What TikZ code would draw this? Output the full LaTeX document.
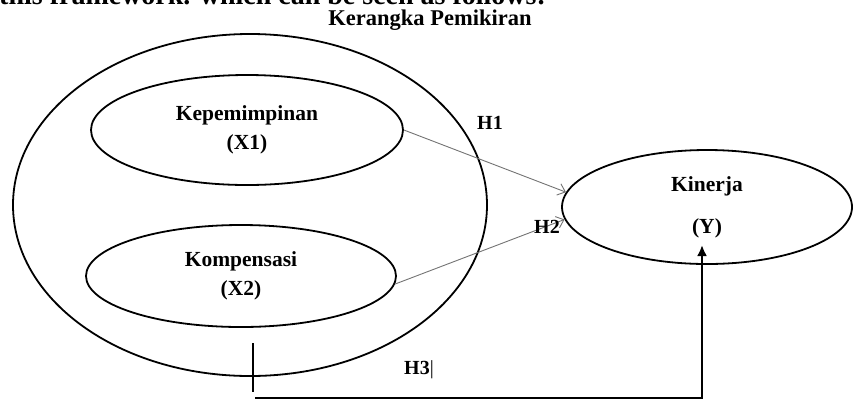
\documentclass[tikz,border=0pt]{standalone}
\usepackage{fontspec}
\setmainfont{Liberation Serif}
\usetikzlibrary{shapes.geometric,arrows.meta}
\begin{document}
\begin{tikzpicture}[x=1pt,y=-1pt,
  oval/.style={draw,ellipse,line width=1.8pt,inner sep=0pt,align=center,
    font=\bfseries\fontsize{21.5}{29}\selectfont},
  lbl/.style={font=\bfseries\fontsize{20}{24}\selectfont,inner sep=0pt},
  thinarrow/.style={draw=black!55,line width=0.9pt,-{Straight Barb[length=7pt,width=12pt]}},
  thickline/.style={line width=2.4pt}]
\useasboundingbox (0,0) rectangle (853,400);
\clip (0,0) rectangle (853,400);
\node[lbl,anchor=base west,font=\bfseries\fontsize{28}{30}\selectfont] (top) at (-1,4) {this framework. which can be seen as follows:};
\node[lbl,anchor=base,font=\bfseries\fontsize{22.5}{26}\selectfont] (title) at (430,25) {Kerangka Pemikiran};
\node[oval,minimum width=474pt,minimum height=342pt] (outer) at (250,205) {};
\node[oval,minimum width=312pt,minimum height=110pt] (x1) at (247,130) {Kepemimpinan\\(X1)};
\node[oval,minimum width=310pt,minimum height=102pt] (x2) at (241,276) {Kompensasi\\(X2)};
\node[oval,minimum width=290pt,minimum height=114pt] (k) at (707,207) {Kinerja\\[13pt](Y)};
\draw[thinarrow] (x1.east) -- (k.174);
\draw[thinarrow] (x2.-3) -- (k.185);
\node[lbl] (h1) at (490,123) {H1};
\node[lbl] (h2) at (547,227) {H2};
\node[lbl] (h3) at (419,370) {H3{\mdseries|}};
\coordinate (t1) at (253,343);
\coordinate (t2) at (253,392);
\coordinate (h0) at (255,398);
\coordinate (ytip) at (702,245);
\draw[thickline] (t1) -- (t2);
\draw[thickline,-{Latex[length=11pt,width=10pt]}] (h0) -| (ytip);
\end{tikzpicture}
\end{document}
